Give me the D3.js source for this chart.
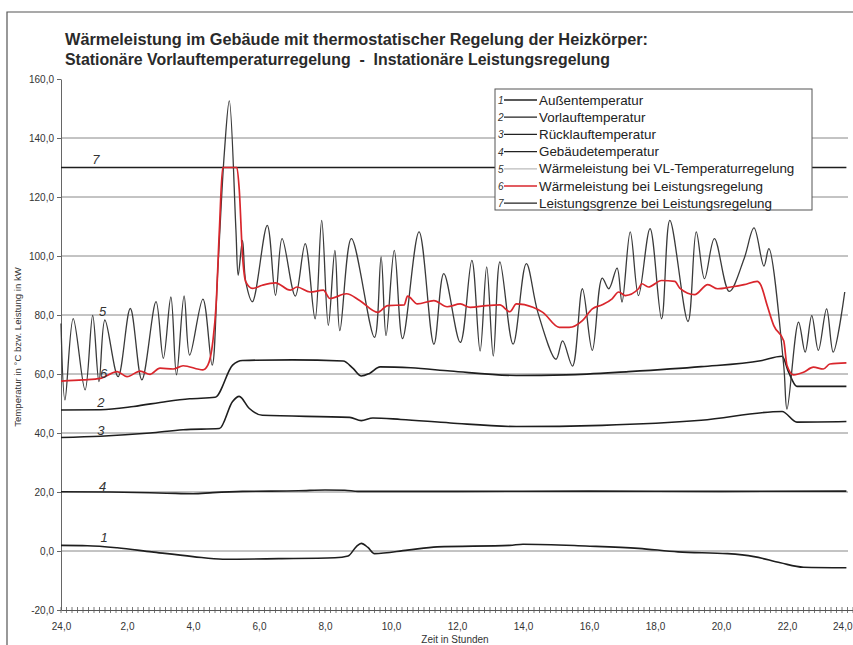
<!DOCTYPE html>
<html>
<head>
<meta charset="utf-8">
<script src="https://cdn.jsdelivr.net/npm/d3@7"></script>
<style>
  body { margin: 0; background: #fff; }
  svg { display: block; font-family: "Liberation Sans", Arial, sans-serif; }
</style>
</head>
<body>
<div id="wrapper"></div>
<script>
// data: [hour, value]
const aussenTemp = [[0,1.9],[0.8,1.8],[1.7,1.1],[2.75,-0.3],[4.0,-1.9],[4.9,-2.8],[6.6,-2.6],[8.3,-2.3],[8.7,-1.7],[8.95,1.5],[9.1,2.6],[9.3,1.2],[9.5,-0.9],[10.5,0.3],[11.4,1.4],[13.6,1.9],[14.0,2.3],[15.9,1.7],[17.5,0.9],[18.7,-0.3],[20.2,-0.9],[21.0,-1.9],[21.8,-4.0],[22.5,-5.5],[23.8,-5.7]];
const vorlaufTemp = [[0,47.8],[1.2,47.9],[2.2,49],[3.2,50.7],[3.9,51.6],[4.67,52.1],[5.2,63],[5.5,64.6],[7,64.8],[8.55,64.4],[8.85,61.9],[9.1,59.3],[9.35,60.2],[9.67,62.4],[10.6,62.1],[11.8,61],[13.8,59.5],[15.3,59.7],[17.2,60.8],[19.4,62.5],[21.2,64.5],[21.85,66],[22.05,60.6],[22.3,55.8],[23.8,55.8]];
const ruecklaufTemp = [[0,38.5],[1.2,38.9],[2.7,40],[3.7,41.1],[4.8,41.5],[5.2,50.7],[5.4,52.4],[5.7,48.4],[6.1,46],[8.75,45.3],[9.1,44.2],[9.45,45.1],[10.3,44.6],[11.8,43.4],[13.8,42.2],[16.4,42.6],[19.4,44.3],[21.85,47.3],[22.3,43.7],[23.8,43.9]];
const gebaeudeTemp = [[0,20.1],[1.5,20],[3.2,19.6],[4.0,19.4],[4.6,19.8],[5.5,20.2],[7.2,20.4],[8.0,20.7],[8.6,20.6],[9.0,20.2],[12,20.2],[16,20.3],[20,20.2],[23.8,20.3]];
const leistungVL = [[0,77.1],[0.12,51.2],[0.37,78.8],[0.73,54.6],[0.96,79.9],[1.15,57.4],[1.33,78.3],[1.73,59.1],[2.1,82.2],[2.45,58],[2.88,84.5],[3.1,65.3],[3.33,86.1],[3.5,59.7],[3.73,86.5],[3.9,66.4],[4.3,85.4],[4.58,63],[4.75,95],[4.95,135],[5.1,152.6],[5.3,109],[5.37,93.5],[5.5,105.3],[5.6,91.2],[5.8,84.5],[6.25,110.4],[6.5,86.7],[6.7,105.9],[7.1,86.4],[7.4,104.2],[7.7,78.7],[7.9,112.1],[8.1,76.5],[8.3,101.9],[8.45,74.7],[8.8,105.9],[9.5,72.4],[9.7,99.7],[9.85,73],[10.1,101.9],[10.35,72],[10.85,108.2],[11.3,70.1],[11.6,94],[12.1,70.7],[12.45,98.5],[12.7,67.8],[12.9,96.3],[13.1,66.1],[13.3,98],[13.7,70.1],[14.1,97.4],[14.45,80.9],[15.0,65],[15.2,71.2],[15.5,62.7],[15.8,88.9],[16.1,68],[16.4,92.5],[16.6,88.9],[16.85,95.9],[17.0,84.4],[17.25,108.2],[17.5,86.6],[17.85,109.3],[18.2,78.7],[18.45,112.1],[19.0,77.8],[19.25,108.2],[19.5,92.3],[19.8,105.9],[20.25,88],[20.7,99.1],[21.0,109.5],[21.3,96.6],[21.45,102.5],[21.9,62.9],[22.0,48.1],[22.35,77.6],[22.55,67.4],[22.75,79.8],[22.95,68],[23.2,82.1],[23.4,67.4],[23.75,87.8]];
const leistungLR = [[0,57.6],[0.67,58],[1.2,58.5],[1.7,60.8],[2.0,59.1],[2.4,61],[2.7,59.9],[3.0,62],[3.4,61.7],[3.7,62.8],[4.3,61.4],[4.45,63],[4.6,70.9],[4.7,83.3],[4.8,109],[4.9,130],[5.33,130],[5.4,122.8],[5.5,100.2],[5.6,91.2],[5.8,89],[6.1,90.1],[6.5,90.9],[6.95,88.4],[7.15,89.5],[7.55,87.8],[7.95,88.4],[8.15,85.6],[8.65,87.2],[9.05,84.9],[9.6,80.9],[9.9,83.2],[10.4,83.4],[10.5,86.4],[10.8,83.75],[11.3,84.9],[11.7,82.8],[12.1,83.75],[12.4,82.6],[12.9,83.2],[13.3,83.4],[13.6,81.1],[13.8,83.75],[14.3,82.6],[14.6,80.9],[15.1,75.8],[15.4,75.8],[15.8,78.1],[16.1,82.1],[16.4,83.5],[16.7,85.5],[16.9,87.8],[17.1,86.6],[17.5,88.9],[17.6,90.6],[17.8,89.5],[18.2,91.7],[18.6,91.4],[18.75,89.1],[19.2,86.9],[19.6,90.3],[19.9,88.9],[20.3,89.5],[20.7,90.3],[21.1,91.4],[21.2,90.3],[21.4,83.2],[21.6,76.4],[21.9,71.3],[22.0,62.9],[22.2,59.7],[22.5,60.6],[22.8,62.3],[23.1,61.7],[23.3,63.4],[23.8,63.8]];
const leistungsGrenze = [[0,130],[23.8,130]];

const legendLabels = ["Außentemperatur", "Vorlauftemperatur", "Rücklauftemperatur", "Gebäudetemperatur",
  "Wärmeleistung bei VL-Temperaturregelung", "Wärmeleistung bei Leistungsregelung", "Leistungsgrenze bei Leistungsregelung"];
const yTicks = [-20, 0, 20, 40, 60, 80, 100, 120, 140, 160];
const gridValues = [0, 20, 40, 60, 80, 100, 120, 140];
const xTicks = [0, 2, 4, 6, 8, 10, 12, 14, 16, 18, 20, 22, 24];
// hand written curve numbers: [label, hour, value]
const curveNumbers = [["7", 0.95, 131.2], ["5", 1.15, 79.5], ["6", 1.18, 58.8], ["2", 1.1, 48.8], ["3", 1.1, 39.2], ["4", 1.15, 20.4], ["1", 1.2, 3.2]];

const width = 853, height = 645;
const svg = d3.select("#wrapper").append("svg").attr("width", width).attr("height", height);

// frame
svg.append("path").attr("d", "M7,645 V12 H853").attr("fill", "none").attr("stroke", "#555").attr("stroke-width", 1.2);

// title
svg.append("text").attr("x", 65).attr("y", 45).attr("font-size", 16).attr("font-weight", "bold")
  .attr("fill", "#2a2a2a").attr("textLength", 583).attr("lengthAdjust", "spacingAndGlyphs")
  .text("Wärmeleistung im Gebäude mit thermostatischer Regelung der Heizkörper:");
svg.append("text").attr("x", 65).attr("y", 65).attr("font-size", 16).attr("font-weight", "bold")
  .attr("fill", "#2a2a2a").attr("textLength", 545).attr("lengthAdjust", "spacingAndGlyphs")
  .attr("xml:space", "preserve")
  .text("Stationäre Vorlauftemperaturregelung  -  Instationäre Leistungsregelung");

const x = d3.scaleLinear().domain([0, 24]).range([61, 853]);
const y = d3.scaleLinear().domain([-20, 160]).range([610, 79]);
const fmt = d => d3.format(".1f")(d).replace(".", ",").replace("−", "-");

// grid
svg.append("g").selectAll("line").data(gridValues).join("line")
  .attr("x1", x(0)).attr("x2", 848).attr("y1", d => y(d)).attr("y2", d => y(d))
  .attr("stroke", "#888").attr("stroke-width", 1);

// y axis
const yAxis = svg.append("g").attr("transform", `translate(${x(0)},0)`)
  .call(d3.axisLeft(y).tickValues(yTicks).tickSize(4).tickSizeOuter(0).tickFormat(fmt));
yAxis.select(".domain").attr("stroke", "#666");
yAxis.selectAll(".tick line").attr("stroke", "#666");
yAxis.selectAll("text").attr("font-size", 10).attr("fill", "#333").attr("x", -7);

// x axis
const xAxis = svg.append("g").attr("transform", `translate(0,${y(-20)})`)
  .call(d3.axisBottom(x).tickValues(xTicks).tickSize(0).tickPadding(13).tickFormat(d => fmt(d === 0 ? 24 : d)));
xAxis.select(".domain").attr("stroke", "#555");
xAxis.selectAll("text").attr("font-size", 10).attr("fill", "#333");
xAxis.selectAll(".tick").filter(d => d === 24).select("text").attr("text-anchor", "end").attr("x", -1);
svg.append("g").selectAll("line").data(d3.range(0, 24.01, 1 / 6)).join("line")
  .attr("x1", d => x(d)).attr("x2", d => x(d)).attr("y1", y(-20) - 3).attr("y2", y(-20) + 3)
  .attr("stroke", "#555").attr("stroke-width", 0.8);

svg.append("text").attr("x", 455).attr("y", 643).attr("text-anchor", "middle").attr("font-size", 10)
  .attr("fill", "#333").text("Zeit in Stunden");
svg.append("text").attr("transform", "translate(21,347) rotate(-90)").attr("text-anchor", "middle")
  .attr("font-size", 9.6).attr("fill", "#333").text("Temperatur in °C bzw. Leistung in kW");

// lines
const smooth = d3.line().x(d => x(d[0])).y(d => y(d[1])).curve(d3.curveMonotoneX);
const wavy = d3.line().x(d => x(d[0])).y(d => y(d[1])).curve(d3.curveCatmullRom.alpha(0.5));

const plain = [leistungsGrenze, aussenTemp, vorlaufTemp, ruecklaufTemp, gebaeudeTemp];
svg.append("g").selectAll("path").data(plain).join("path")
  .attr("d", smooth).attr("fill", "none").attr("stroke", "#1e1e1e").attr("stroke-width", 1.6);

svg.append("path").datum(leistungVL).attr("d", wavy).attr("fill", "none")
  .attr("stroke", "#3a3a3a").attr("stroke-width", 1.3);
svg.append("path").datum(leistungLR).attr("d", smooth).attr("fill", "none")
  .attr("stroke", "#d9262c").attr("stroke-width", 1.7);

// curve numbers
svg.append("g").selectAll("text").data(curveNumbers).join("text")
  .attr("x", d => x(d[1])).attr("y", d => y(d[2])).attr("font-size", 13).attr("font-style", "italic")
  .attr("fill", "#333").text(d => d[0]);

// legend
const legend = svg.append("g").attr("transform", "translate(495,89)");
legend.append("rect").attr("width", 317).attr("height", 121).attr("fill", "#fff")
  .attr("stroke", "#555").attr("stroke-width", 1);
const legendColors = ["#222", "#222", "#222", "#222", "#bbb", "#d9262c", "#222"];
const item = legend.selectAll("g").data(legendLabels).join("g")
  .attr("transform", (d, i) => `translate(0,${11 + i * 17.2})`);
item.append("text").attr("x", 3).attr("y", 4).attr("font-size", 10).attr("font-style", "italic")
  .attr("fill", "#333").text((d, i) => i + 1);
item.append("line").attr("x1", 9).attr("x2", 42).attr("y1", 0).attr("y2", 0)
  .attr("stroke", (d, i) => legendColors[i]).attr("stroke-width", 1.3);
item.append("text").attr("x", 44).attr("y", 4.5).attr("font-size", 13.4).attr("fill", "#222").text(d => d);
</script>
</body>
</html>
